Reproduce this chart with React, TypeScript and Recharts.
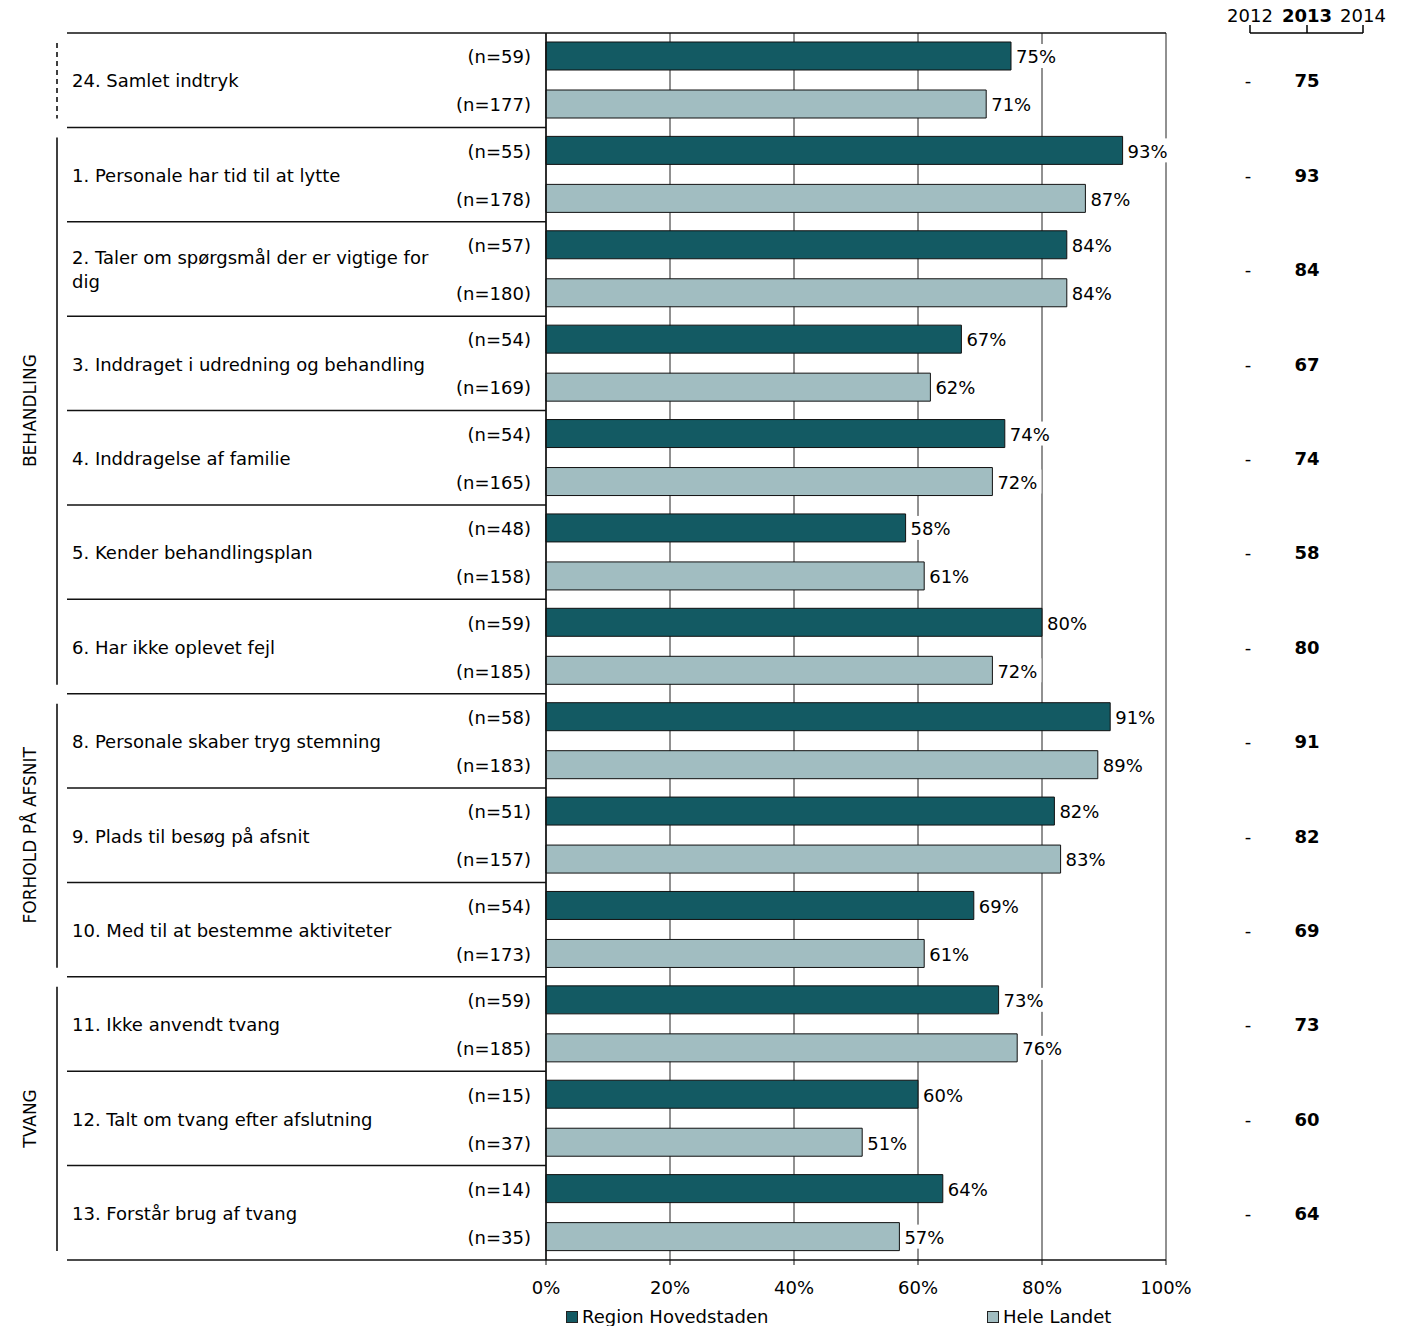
import { BarChart, Bar, XAxis, YAxis, CartesianGrid, LabelList, Legend } from "recharts";

const QUESTIONS = [
  "24. Samlet indtryk",
  "1. Personale har tid til at lytte",
  "2. Taler om spørgsmål der er vigtige for dig",
  "3. Inddraget i udredning og behandling",
  "4. Inddragelse af familie",
  "5. Kender behandlingsplan",
  "6. Har ikke oplevet fejl",
  "8. Personale skaber tryg stemning",
  "9. Plads til besøg på afsnit",
  "10. Med til at bestemme aktiviteter",
  "11. Ikke anvendt tvang",
  "12. Talt om tvang efter afslutning",
  "13. Forstår brug af tvang",
];
const REGION = [75, 93, 84, 67, 74, 58, 80, 91, 82, 69, 73, 60, 64];
const HELE = [71, 87, 84, 62, 72, 61, 72, 89, 83, 61, 76, 51, 57];
const N_REGION = [59, 55, 57, 54, 54, 48, 59, 58, 51, 54, 59, 15, 14];
const N_HELE = [177, 178, 180, 169, 165, 158, 185, 183, 157, 173, 185, 37, 35];
const Y2012 = ["-", "-", "-", "-", "-", "-", "-", "-", "-", "-", "-", "-", "-"];
const Y2013 = [75, 93, 84, 67, 74, 58, 80, 91, 82, 69, 73, 60, 64];
const YEARS = ["2012", "2013", "2014"];
const GROUP_LABELS = ["", "BEHANDLING", "FORHOLD PÅ AFSNIT", "TVANG"];
const GROUP_SIZES = [1, 6, 3, 3];
const SERIES = ["Region Hovedstaden", "Hele Landet"];
const X_TICKS = [0, 20, 40, 60, 80, 100];

const DARK = "#135a63";
const LIGHT = "#a1bdc1";
const FONT = "'DejaVu Sans', Verdana, sans-serif";
const FS = 18;

const W = 1404;
const H = 1326;
const PLOT_L = 546;
const PLOT_R = 1166;
const PLOT_T = 33;
const PLOT_B = 1260;
const BAND = (PLOT_B - PLOT_T) / QUESTIONS.length;
const ROW_L = 67;
const YEAR_X = [1250, 1307, 1363];

const data = QUESTIONS.map((q, i) => ({
  q,
  region: REGION[i],
  hele: HELE[i],
  nRegion: N_REGION[i],
  nHele: N_HELE[i],
}));

// group start index -> group index
const groupStarts: Record<number, number> = {};
GROUP_SIZES.reduce((acc, size, g) => {
  groupStarts[acc] = g;
  return acc + size;
}, 0);

function wrap(s: string, max: number) {
  const words = s.split(" ");
  const lines: string[] = [];
  let cur = "";
  for (const w of words) {
    const next = cur ? cur + " " + w : w;
    if (next.length > max && cur) {
      lines.push(cur);
      cur = w;
    } else cur = next;
  }
  if (cur) lines.push(cur);
  return lines;
}

const RowTick = (props: any) => {
  const { y, index, payload } = props;
  const top = y - BAND / 2;
  const lines = wrap(String(payload.value), 40);
  const g = groupStarts[index];
  let group = null;
  if (g !== undefined) {
    const span = GROUP_SIZES[g] * BAND;
    const y1 = top + 10;
    const y2 = top + span - 9;
    group = (
      <g>
        <line
          x1={57}
          x2={57}
          y1={y1}
          y2={y2}
          stroke="#000"
          strokeWidth={1.5}
          strokeDasharray={GROUP_LABELS[g] ? undefined : "5 4"}
        />
        {GROUP_LABELS[g] && (
          <text
            x={30}
            y={top + span / 2}
            transform={`rotate(-90 30 ${top + span / 2})`}
            textAnchor="middle"
            dy="0.35em"
            fontSize={17}
            fill="#000"
          >
            {GROUP_LABELS[g]}
          </text>
        )}
      </g>
    );
  }
  return (
    <g fontFamily={FONT}>
      <line x1={ROW_L} x2={index === 0 ? PLOT_R : PLOT_L} y1={top} y2={top} stroke="#111" strokeWidth={1.5} />
      {index === QUESTIONS.length - 1 && (
        <line x1={ROW_L} x2={PLOT_L} y1={top + BAND} y2={top + BAND} stroke="#111" strokeWidth={1.5} />
      )}
      <text x={72} y={y + 1 - ((lines.length - 1) * 24) / 2} fontSize={FS} fill="#000">
        {lines.map((l, k) => (
          <tspan key={k} x={72} dy={k === 0 ? "0.35em" : 24}>
            {l}
          </tspan>
        ))}
      </text>
      <text x={YEAR_X[0] - 2} y={y + 1} dy="0.35em" textAnchor="middle" fontSize={FS} fill="#000">
        {Y2012[index]}
      </text>
      <text x={YEAR_X[1]} y={y + 1} dy="0.35em" textAnchor="middle" fontSize={FS} fontWeight="bold" fill="#000">
        {Y2013[index]}
      </text>
      {index === 0 && (
        <g>
          {YEARS.map((yr, k) => (
            <text
              key={yr}
              x={YEAR_X[k]}
              y={16}
              dy="0.35em"
              textAnchor="middle"
              fontSize={FS}
              fontWeight={k === 1 ? "bold" : "normal"}
              fill="#000"
            >
              {yr}
            </text>
          ))}
          <line x1={YEAR_X[0]} x2={YEAR_X[2]} y1={33} y2={33} stroke="#000" strokeWidth={1.5} />
          {YEAR_X.map((x) => (
            <line key={x} x1={x} x2={x} y1={25} y2={33} stroke="#000" strokeWidth={1.5} />
          ))}
        </g>
      )}
      {group}
    </g>
  );
};

const nLabel = (p: any) => {
  const { x, y, height, value } = p;
  return (
    <text x={x - 15} y={y + height / 2 + 1} dy="0.35em" textAnchor="end" fontSize={FS} fontFamily={FONT} fill="#000">
      (n={value})
    </text>
  );
};

const valueLabel = (p: any) => {
  const { x, y, width, height, value } = p;
  const tx = x + width + 5;
  return (
    <g>
      <rect x={tx - 2} y={y + height / 2 - 12} width={46} height={24} fill="#fff" />
      <text x={tx} y={y + height / 2 + 1} dy="0.35em" fontSize={FS} fontFamily={FONT} fill="#000">
        {value}%
      </text>
    </g>
  );
};

const LegendContent = () => (
  <div style={{ position: "relative", height: 24, fontFamily: FONT, fontSize: FS, color: "#000" }}>
    {SERIES.map((s, k) => (
      <div
        key={s}
        style={{
          position: "absolute",
          left: k === 0 ? 566 : 987,
          top: 6,
          display: "flex",
          alignItems: "center",
          whiteSpace: "nowrap",
        }}
      >
        <span
          style={{
            display: "inline-block",
            width: 10,
            height: 10,
            background: k === 0 ? DARK : LIGHT,
            border: "1px solid #222",
            marginRight: 4,
          }}
        />
        {s}
      </div>
    ))}
  </div>
);

export default function App() {
  return (
    <div style={{ position: "absolute", left: 0, top: 0, width: W, height: H, background: "#fff" }}>
      <BarChart
        width={W}
        height={H}
        data={data}
        layout="vertical"
        margin={{ top: PLOT_T, right: W - PLOT_R, bottom: 2, left: PLOT_L - 1 }}
        barGap={20}
        barCategoryGap={9}
        style={{ fontFamily: FONT }}
      >
        <CartesianGrid horizontal={false} vertical stroke="#222" />
        <XAxis
          type="number"
          domain={[0, 100]}
          ticks={X_TICKS}
          tickFormatter={(v) => `${v}%`}
          axisLine={{ stroke: "#111", strokeWidth: 1.5 }}
          tickLine={{ stroke: "#111" }}
          tickSize={5}
          tickMargin={16}
          height={40}
          tick={{ fontSize: FS, fill: "#000", fontFamily: FONT }}
          interval={0}
        />
        <YAxis
          type="category"
          dataKey="q"
          width={1}
          axisLine={{ stroke: "#111", strokeWidth: 1.5 }}
          tickLine={false}
          tick={(p: any) => <RowTick {...p} />}
          interval={0}
        />
        <Legend verticalAlign="bottom" wrapperStyle={{ left: 0, width: W }} content={<LegendContent />} />
        <Bar dataKey="region" name={SERIES[0]} fill={DARK} stroke="#111" strokeWidth={1} barSize={28} isAnimationActive={false}>
          <LabelList dataKey="nRegion" content={nLabel} />
          <LabelList dataKey="region" content={valueLabel} />
        </Bar>
        <Bar dataKey="hele" name={SERIES[1]} fill={LIGHT} stroke="#111" strokeWidth={1} barSize={28} isAnimationActive={false}>
          <LabelList dataKey="nHele" content={nLabel} />
          <LabelList dataKey="hele" content={valueLabel} />
        </Bar>
      </BarChart>
    </div>
  );
}
